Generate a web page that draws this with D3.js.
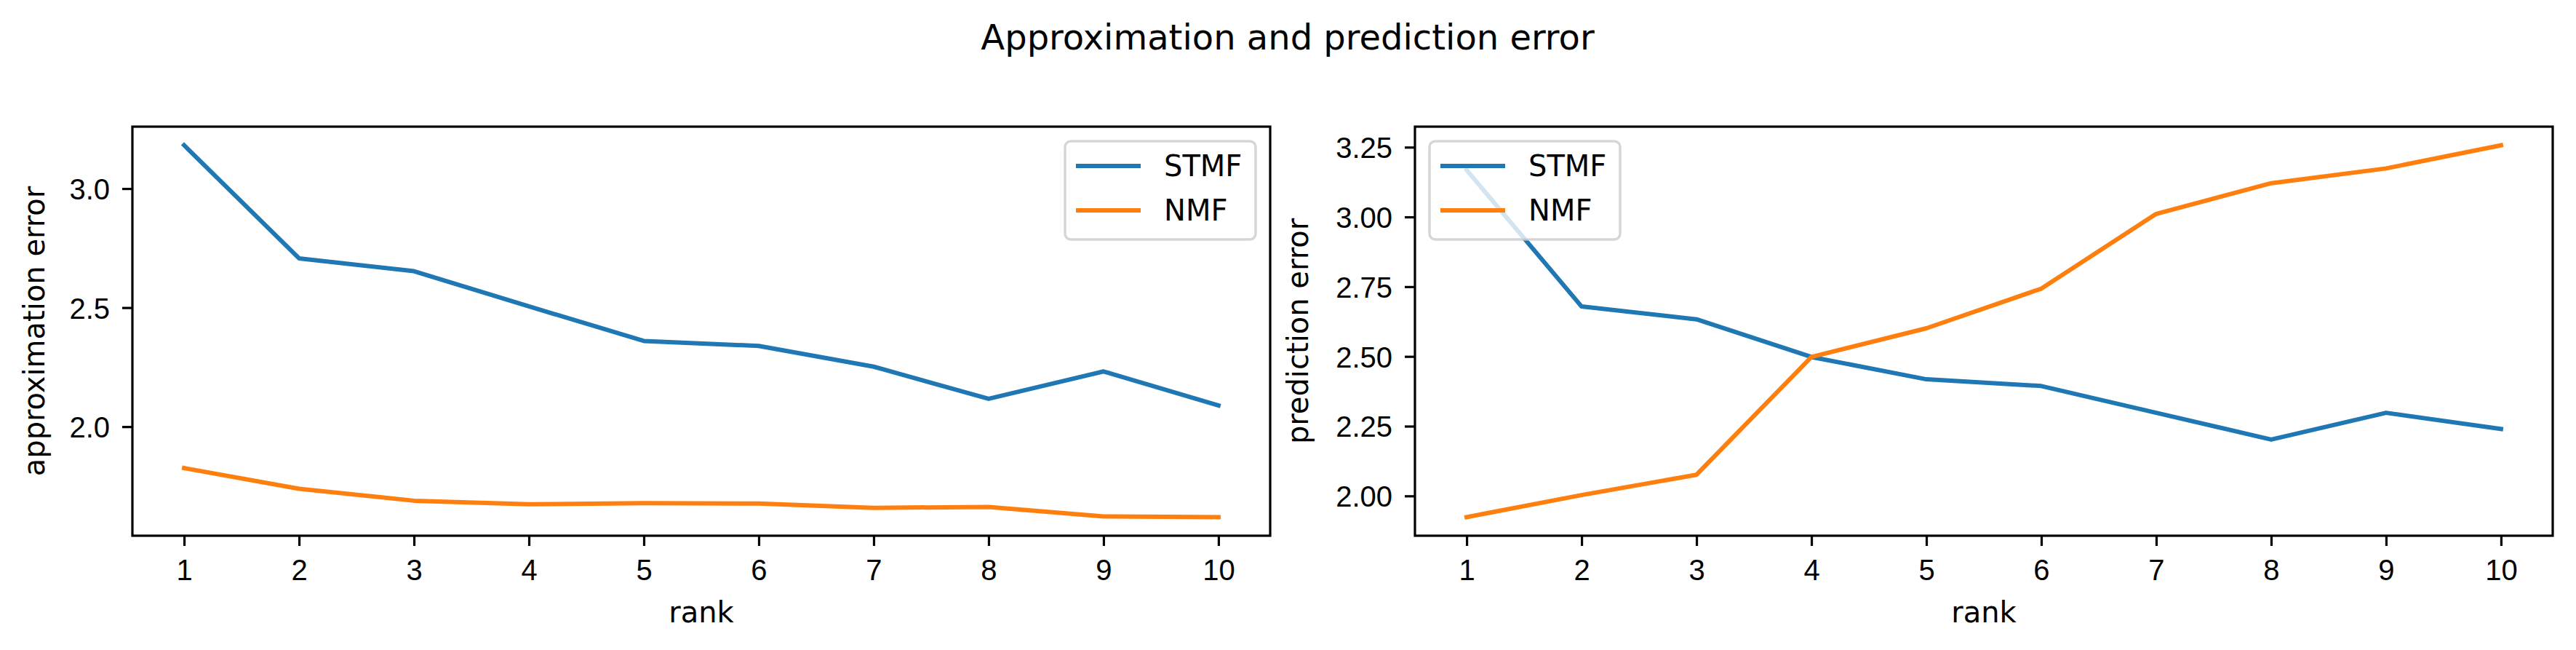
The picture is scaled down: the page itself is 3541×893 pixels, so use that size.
<!DOCTYPE html>
<html>
<head>
<meta charset="utf-8">
<script src="https://cdn.jsdelivr.net/npm/d3@7"></script>
<style>
  body { margin: 0; background: #fff; }
  svg { display: block; font-family: "DejaVu Sans", sans-serif; }
  .tick text { font-size: 40px; fill: #000; }
  .tick line { stroke: #000; stroke-width: 3.2; }
</style>
</head>
<body>
<svg id="chart" width="3541" height="893"></svg>
<script>
// ranks on the x axis
var RANKS = [1, 2, 3, 4, 5, 6, 7, 8, 9, 10];

// approximation error (left panel)
var APPROX_STMF = [3.182, 2.707, 2.653, 2.505, 2.360, 2.339, 2.252, 2.117, 2.232, 2.089];
var APPROX_NMF  = [1.826, 1.739, 1.689, 1.674, 1.679, 1.677, 1.659, 1.663, 1.623, 1.620];

// prediction error (right panel)
var PRED_STMF = [3.168, 2.679, 2.633, 2.498, 2.418, 2.394, 2.298, 2.202, 2.298, 2.240];
var PRED_NMF  = [1.924, 2.003, 2.076, 2.498, 2.601, 2.743, 3.011, 3.121, 3.174, 3.257];

var APPROX_TICKS = [2.0, 2.5, 3.0];
var PRED_TICKS = [2.00, 2.25, 2.50, 2.75, 3.00, 3.25];

var SERIES_NAMES = ["STMF", "NMF"];
var COLORS = ["#1f77b4", "#ff7f0e"];

var svg = d3.select("#chart");

var TOP = 174, BOTTOM = 736, AX_W = 1564;

// title
svg.append("text")
  .attr("x", 1770).attr("y", 68)
  .attr("text-anchor", "middle")
  .style("font-size", "48px")
  .text("Approximation and prediction error");

/**
 * one panel: frame, axes, two lines, legend
 */
function drawPanel(left, series, yTicks, yFormat, yLabel, yLabelX, legendSide){
  var g = svg.append("g");

  var x = d3.scaleLinear().domain([1 - 0.45, 10 + 0.45]).range([left, left + AX_W]);

  // 5% margin like matplotlib autoscale
  var all = series[0].concat(series[1]);
  var lo = d3.min(all), hi = d3.max(all), pad = (hi - lo) * 0.05;
  var y = d3.scaleLinear().domain([lo - pad, hi + pad]).range([BOTTOM, TOP]);

  // axes
  var xAxis = d3.axisBottom(x).tickValues(RANKS).tickSize(14).tickSizeOuter(0).tickPadding(19).tickFormat(d3.format("d"));
  var gx = g.append("g").attr("transform", "translate(0," + BOTTOM + ")").call(xAxis);
  gx.select(".domain").remove();

  var yAxis = d3.axisLeft(y).tickValues(yTicks).tickSize(14).tickSizeOuter(0).tickPadding(17).tickFormat(d3.format(yFormat));
  var gy = g.append("g").attr("transform", "translate(" + left + ",0)").call(yAxis);
  gy.select(".domain").remove();
  gy.selectAll(".tick text").attr("dy", "0.36em");

  // lines
  var line = d3.line().x(function(d, i){ return x(RANKS[i]); }).y(function(d){ return y(d); });
  series.forEach(function(s, i){
    g.append("path")
      .attr("d", line(s))
      .attr("fill", "none")
      .attr("stroke", COLORS[i])
      .attr("stroke-width", 6)
      .attr("stroke-linejoin", "round")
      .attr("stroke-linecap", "square");
  });

  // frame
  g.append("rect")
    .attr("x", left).attr("y", TOP)
    .attr("width", AX_W).attr("height", BOTTOM - TOP)
    .attr("fill", "none").attr("stroke", "#000").attr("stroke-width", 3.2);

  // axis labels
  g.append("text")
    .attr("x", left + AX_W / 2).attr("y", 855)
    .attr("text-anchor", "middle")
    .style("font-size", "40px")
    .text("rank");

  g.append("text")
    .attr("transform", "translate(" + yLabelX + "," + ((TOP + BOTTOM) / 2) + ") rotate(-90)")
    .attr("text-anchor", "middle")
    .style("font-size", "40px")
    .text(yLabel);

  // legend
  var lw = 262, lh = 135;
  var lx = legendSide == "right" ? left + AX_W - 20 - lw : left + 20;
  var gl = g.append("g").attr("transform", "translate(" + lx + "," + (TOP + 20) + ")");
  gl.append("rect")
    .attr("width", lw).attr("height", lh).attr("rx", 8)
    .attr("fill", "#fff").attr("fill-opacity", 0.8)
    .attr("stroke", "#cccccc").attr("stroke-opacity", 0.8).attr("stroke-width", 3.5);
  SERIES_NAMES.forEach(function(name, i){
    var ly = 34 + i * 61;
    gl.append("line")
      .attr("x1", 15).attr("x2", 104)
      .attr("y1", ly).attr("y2", ly)
      .attr("stroke", COLORS[i]).attr("stroke-width", 6);
    gl.append("text")
      .attr("x", 136).attr("y", ly + 14)
      .style("font-size", "40px")
      .text(name);
  });
}

drawPanel(182, [APPROX_STMF, APPROX_NMF], APPROX_TICKS, ".1f", "approximation error", 61, "right");
drawPanel(1945, [PRED_STMF, PRED_NMF], PRED_TICKS, ".2f", "prediction error", 1798, "left");
</script>
</body>
</html>
